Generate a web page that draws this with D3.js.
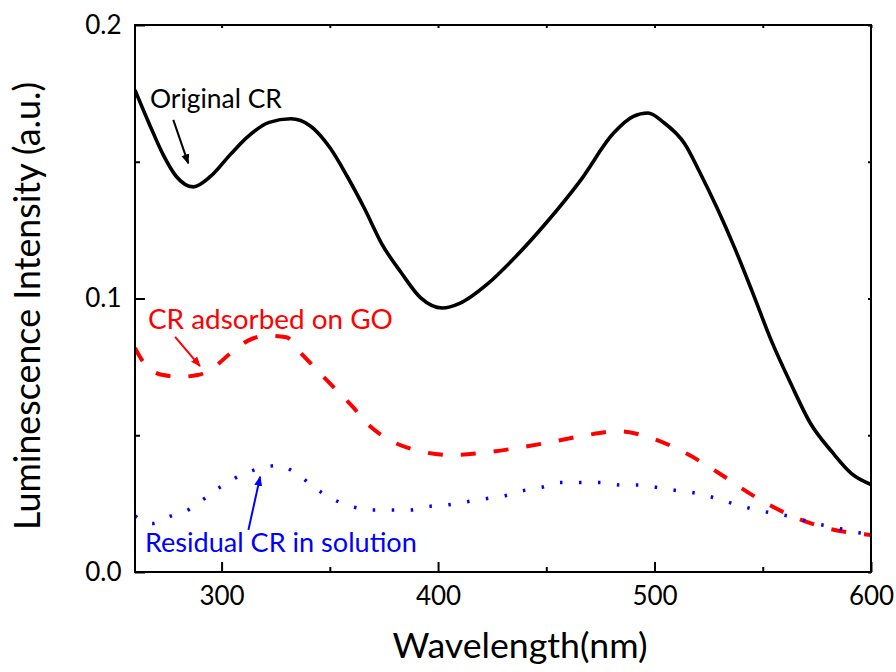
<!DOCTYPE html>
<html>
<head>
<meta charset="utf-8">
<script src="https://cdn.jsdelivr.net/npm/d3@7"></script>
<style>
  html, body { margin: 0; padding: 0; background: #fff; }
  svg { display: block; font-family: Lato, "Open Sans", sans-serif; }
</style>
</head>
<body>
<svg id="chart" width="896" height="672"></svg>
<script>
// Luminescence spectra: wavelength (nm) and intensity (a.u.)
const originalWl = [260, 267, 273, 279, 287, 295, 304, 312, 322, 332, 341, 350, 358, 366, 374, 383, 392, 402, 410, 423, 435, 450, 466, 481, 490, 497, 504, 514, 521, 529, 537, 545, 554, 563, 572, 582, 591, 600];
const originalVal = [0.1762, 0.1631, 0.1526, 0.1447, 0.1408, 0.1447, 0.1526, 0.1591, 0.1644, 0.1657, 0.1631, 0.1552, 0.1447, 0.1329, 0.1200, 0.1094, 0.1002, 0.0965, 0.0982, 0.1054, 0.1146, 0.1277, 0.1434, 0.1604, 0.1665, 0.1678, 0.1645, 0.1565, 0.1460, 0.1329, 0.1185, 0.1028, 0.0845, 0.0688, 0.0544, 0.0439, 0.0360, 0.0320];

const adsorbedWl = [260, 264, 273, 281, 289, 295, 304, 312, 321, 330, 336, 347, 360, 369, 377, 390, 406, 421, 437, 452, 467, 483, 498, 515, 530, 545, 562, 577, 600];
const adsorbedVal = [0.0819, 0.0766, 0.0720, 0.0714, 0.0720, 0.0740, 0.0799, 0.0845, 0.0864, 0.0858, 0.0806, 0.0714, 0.0609, 0.0530, 0.0485, 0.0445, 0.0428, 0.0436, 0.0454, 0.0475, 0.0498, 0.0515, 0.0491, 0.0432, 0.0360, 0.0282, 0.0210, 0.0166, 0.0135];

const residualWl = [260, 268, 276, 285, 292, 300, 309, 318, 326, 335, 343, 351, 360, 369, 378, 387, 396, 405, 414, 422, 431, 439, 448, 457, 466, 475, 484, 493, 502, 511, 520, 529, 538, 547, 556, 565, 574, 582, 591, 600];
const residualVal = [0.0205, 0.0177, 0.0203, 0.0229, 0.0268, 0.0314, 0.0354, 0.0380, 0.0389, 0.0358, 0.0308, 0.0268, 0.0240, 0.0227, 0.0227, 0.0227, 0.0240, 0.0246, 0.0258, 0.0268, 0.0279, 0.0297, 0.0310, 0.0327, 0.0327, 0.0327, 0.0318, 0.0318, 0.0308, 0.0297, 0.0287, 0.0268, 0.0246, 0.0227, 0.0213, 0.0199, 0.0177, 0.0166, 0.0148, 0.0138];

// Axis ticks
const xMajorTicks = [300, 400, 500, 600];
const xMinorTicks = [350, 450, 550];
const yMajorTicks = [0, 0.1, 0.2];
const yMinorTicks = [0.05, 0.15];

// Annotation text, label anchor [wl, value], arrow [from wl, from value, to wl, to value]
const annotationText = ["Original CR", "CR adsorbed on GO", "Residual CR in solution"];
const annotationAnchor = [[266.9, 0.1697], [266.0, 0.0888], [264.6, 0.0073]];
const annotationArrow = [[277.7, 0.1653, 284.6, 0.1494], [278.5, 0.0860, 290.0, 0.0753], [312.4, 0.0154, 317.8, 0.0348]];
const seriesColor = ["#000000", "#ff0000", "#0000ff"];

const W = 896, H = 672;
const margin = { top: 25, right: 25, bottom: 100, left: 135 };
const svg = d3.select("#chart");

const x = d3.scaleLinear().domain([260, 600]).range([margin.left, W - margin.right]);
const y = d3.scaleLinear().domain([0, 0.2]).range([H - margin.bottom, margin.top]);

const plotLeft = margin.left, plotRight = W - margin.right;
const plotTop = margin.top, plotBottom = H - margin.bottom;

const defs = svg.append("defs");
seriesColor.forEach((c, i) => {
  defs.append("marker")
    .attr("id", "arrow" + i)
    .attr("viewBox", "0 0 10 10")
    .attr("refX", 9).attr("refY", 5)
    .attr("markerWidth", 5).attr("markerHeight", 5)
    .attr("markerUnits", "strokeWidth")
    .attr("orient", "auto")
    .append("path")
    .attr("d", "M0,1 L10,5 L0,9 Z")
    .attr("fill", c);
});
defs.append("clipPath").attr("id", "plotclip")
  .append("rect")
  .attr("x", plotLeft).attr("y", plotTop)
  .attr("width", plotRight - plotLeft)
  .attr("height", plotBottom - plotTop);

// Curves
const line = d3.line()
  .x(d => x(d[0]))
  .y(d => y(d[1]))
  .curve(d3.curveMonotoneX);

const zip = (a, b) => a.map((v, i) => [v, b[i]]);
const plot = svg.append("g").attr("clip-path", "url(#plotclip)");

plot.append("path")
  .datum(zip(originalWl, originalVal))
  .attr("d", line)
  .attr("fill", "none")
  .attr("stroke", seriesColor[0])
  .attr("stroke-width", 3.6)
  .attr("stroke-linejoin", "round");

plot.append("path")
  .datum(zip(adsorbedWl, adsorbedVal))
  .attr("d", line)
  .attr("fill", "none")
  .attr("stroke", seriesColor[1])
  .attr("stroke-width", 4)
  .attr("stroke-dasharray", "15,18");

plot.append("path")
  .datum(zip(residualWl, residualVal))
  .attr("d", line)
  .attr("fill", "none")
  .attr("stroke", seriesColor[2])
  .attr("stroke-width", 3.5)
  .attr("stroke-dasharray", "2.5,16.5");

// Axes: ticks point inward
const xAxis = svg.append("g").attr("transform", `translate(0,${plotBottom})`)
  .call(d3.axisBottom(x).tickValues(xMajorTicks).tickSize(-10).tickPadding(14.5).tickFormat(d3.format("d")));
const xAxisMinor = svg.append("g").attr("transform", `translate(0,${plotBottom})`)
  .call(d3.axisBottom(x).tickValues(xMinorTicks).tickSize(-5).tickFormat(""));
const yAxis = svg.append("g").attr("transform", `translate(${plotLeft},0)`)
  .call(d3.axisLeft(y).tickValues(yMajorTicks).tickSize(-10).tickPadding(13.5).tickFormat(d3.format(".1f")));
const yAxisMinor = svg.append("g").attr("transform", `translate(${plotLeft},0)`)
  .call(d3.axisLeft(y).tickValues(yMinorTicks).tickSize(-5).tickFormat(""));
const xTop = svg.append("g").attr("transform", `translate(0,${plotTop})`)
  .call(d3.axisTop(x).tickValues(xMajorTicks.concat(xMinorTicks)).tickSize(-3).tickFormat(""));
const yRight = svg.append("g").attr("transform", `translate(${plotRight},0)`)
  .call(d3.axisRight(y).tickValues(yMajorTicks.concat(yMinorTicks)).tickSize(-3).tickFormat(""));

[xAxis, xAxisMinor, yAxis, yAxisMinor, xTop, yRight].forEach(g => {
  g.select(".domain").remove();
  g.selectAll(".tick line").attr("stroke", "#000").attr("stroke-width", 2);
  g.selectAll(".tick text")
    .attr("fill", "#000")
    .style("font-family", "Lato, 'Open Sans', sans-serif")
    .style("font-size", "26px");
});

// Frame
svg.append("rect")
  .attr("x", plotLeft).attr("y", plotTop)
  .attr("width", plotRight - plotLeft).attr("height", plotBottom - plotTop)
  .attr("fill", "none").attr("stroke", "#000").attr("stroke-width", 2);

// Axis titles, sized to their measured widths
function fitText(sel, target) {
  const len = sel.node().getComputedTextLength();
  const fs = parseFloat(sel.style("font-size"));
  sel.style("font-size", (fs * target / len).toFixed(2) + "px");
}

const xTitle = svg.append("text")
  .attr("x", 520).attr("y", 658)
  .attr("text-anchor", "middle")
  .style("font-size", "34px")
  .attr("fill", "#000")
  .text("Wavelength(nm)");
fitText(xTitle, 255);

const yTitle = svg.append("text")
  .attr("transform", "translate(40,306) rotate(-90)")
  .attr("text-anchor", "middle")
  .style("font-size", "34px")
  .attr("fill", "#000")
  .text("Luminescence Intensity (a.u.)");
fitText(yTitle, 448);

// Annotations with arrows
const annWidths = [132, 245, 272];
annotationText.forEach((t, i) => {
  const lbl = svg.append("text")
    .attr("x", x(annotationAnchor[i][0]))
    .attr("y", y(annotationAnchor[i][1]))
    .style("font-size", "24px")
    .attr("fill", seriesColor[i])
    .text(t);
  fitText(lbl, annWidths[i]);
  const a = annotationArrow[i];
  svg.append("line")
    .attr("x1", x(a[0])).attr("y1", y(a[1]))
    .attr("x2", x(a[2])).attr("y2", y(a[3]))
    .attr("stroke", seriesColor[i])
    .attr("stroke-width", 2)
    .attr("marker-end", `url(#arrow${i})`);
});
</script>
</body>
</html>
